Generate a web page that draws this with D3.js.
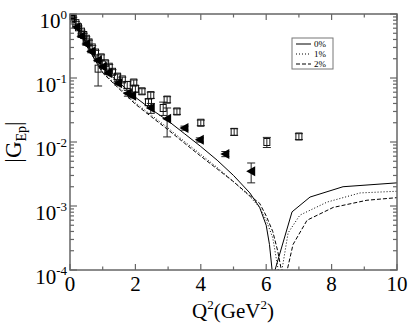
<!DOCTYPE html>
<html>
<head>
<meta charset="utf-8">
<script src="https://cdn.jsdelivr.net/npm/d3@7"></script>
<style>
	body { margin: 0; background: #fff; }
	svg { display: block; font-family: "Liberation Serif", "DejaVu Serif", serif; }
</style>
</head>
<body>
<svg id="chart" width="409" height="327"></svg>
<script>
// theory curves: [Q2, |G_Ep|]
const curve0 = [[0, 1], [0.25, 0.575], [0.5, 0.355], [1, 0.141], [1.5, 0.085], [2, 0.05], [2.5, 0.032], [3, 0.0214],
	[3.5, 0.0135], [4, 0.0085], [4.5, 0.0052], [5, 0.003], [5.5, 0.0016], [5.8, 0.00095], [6.0, 0.0005],
	[6.1, 0.00025], [6.2, 0.00008], [6.27, 0.0001], [6.79, 0.00081], [7.34, 0.00138], [8.35, 0.002], [10, 0.0023]];
const curve1 = [[0, 1], [0.25, 0.55], [0.5, 0.33], [1, 0.125], [1.5, 0.071], [2, 0.041], [2.5, 0.026], [3, 0.0165],
	[3.5, 0.0102], [4, 0.0064], [4.5, 0.004], [5, 0.0024], [5.5, 0.0014], [5.8, 0.00095], [6.0, 0.0006],
	[6.2, 0.00032], [6.3, 0.00016], [6.4, 0.00008], [6.45, 0.00008], [6.67, 0.00038], [7.03, 0.00072],
	[7.86, 0.00115], [8.87, 0.0016], [10, 0.0017]];
const curve2 = [[0, 1], [0.25, 0.545], [0.5, 0.322], [1, 0.12], [1.5, 0.068], [2, 0.039], [2.5, 0.0245], [3, 0.0155],
	[3.5, 0.0096], [4, 0.006], [4.5, 0.0038], [5, 0.0024], [5.5, 0.00145], [5.8, 0.0011], [6.0, 0.0007],
	[6.2, 0.0004], [6.35, 0.0002], [6.5, 0.00008], [6.6, 0.00008], [6.82, 0.00025], [7.25, 0.0006],
	[8.05, 0.00095], [9.08, 0.00123], [10, 0.00135]];

// data: [Q2, G, error]
const triData = [[0.05, 0.87, 0.02], [0.2, 0.62, 0.02], [0.35, 0.45, 0.02], [0.5, 0.34, 0.015], [0.65, 0.26, 0.012],
	[0.85, 0.19, 0.01], [1.0, 0.15, 0.008], [1.16, 0.12, 0.007], [1.47, 0.083, 0.005], [1.77, 0.058, 0.006],
	[1.9, 0.053, 0.004], [2.47, 0.034, 0.006], [2.97, 0.023, 0.011], [3.5, 0.0165, 0.0012],
	[3.97, 0.0108, 0.0008], [4.75, 0.0065, 0.0006], [5.54, 0.0035, 0.0012]];
const sqData = [[0.02, 0.96, 0.03], [0.1, 0.85, 0.04], [0.18, 0.72, 0.04], [0.26, 0.62, 0.03], [0.35, 0.53, 0.03],
	[0.42, 0.47, 0.03], [0.5, 0.41, 0.03], [0.58, 0.36, 0.03], [0.68, 0.30, 0.02], [0.78, 0.25, 0.02],
	[0.86, 0.14, 0.065], [0.95, 0.21, 0.02], [1.08, 0.17, 0.015], [1.2, 0.15, 0.012], [1.3, 0.125, 0.01],
	[1.45, 0.105, 0.01], [1.6, 0.095, 0.008], [1.75, 0.078, 0.01], [1.95, 0.085, 0.008], [2.0, 0.068, 0.008],
	[2.2, 0.062, 0.006], [2.4, 0.042, 0.005], [2.47, 0.054, 0.006], [2.85, 0.034, 0.008], [2.97, 0.046, 0.005],
	[3.27, 0.030, 0.003], [4.0, 0.020, 0.002], [5.02, 0.0144, 0.0017], [6.02, 0.0100, 0.0018], [7.0, 0.0122, 0.0013]];

const xTicks = [0, 2, 4, 6, 8, 10];
const yExps = [0, -1, -2, -3, -4];
const legendLabels = ["0%", "1%", "2%"];

const svg = d3.select("#chart");
const mLeft = 70, mRight = 397, mTop = 14, mBottom = 270;
const axisColor = "#666";

const x = d3.scaleLinear().domain([0, 10]).range([mLeft, mRight]);
const y = d3.scaleLog().domain([1e-4, 1]).range([mBottom, mTop]);

svg.append("clipPath").attr("id", "clip")
	.append("rect").attr("x", mLeft).attr("y", mTop).attr("width", mRight - mLeft).attr("height", mBottom - mTop);

// curves
const line = d3.line().x(d => x(d[0])).y(d => y(Math.max(d[1], 5e-5)));
const dashes = [null, "1,2", "4,2"];
const plot = svg.append("g").attr("clip-path", "url(#clip)");
[curve0, curve1, curve2].forEach((c, i) => {
	plot.append("path").datum(c).attr("d", line)
		.attr("fill", "none").attr("stroke", "#000")
		.attr("stroke-width", 1)
		.attr("stroke-dasharray", dashes[i]);
});

// error bars
function errBars(data) {
	const g = plot.append("g").attr("stroke", "#222").attr("stroke-width", 1);
	data.forEach(d => {
		const y1 = y(d[1] + d[2]), y2 = y(Math.max(d[1] - d[2], 1e-5));
		g.append("line").attr("x1", x(d[0])).attr("x2", x(d[0])).attr("y1", y1).attr("y2", y2);
		g.append("line").attr("x1", x(d[0]) - 4).attr("x2", x(d[0]) + 4).attr("y1", y1).attr("y2", y1);
		g.append("line").attr("x1", x(d[0]) - 4).attr("x2", x(d[0]) + 4).attr("y1", y2).attr("y2", y2);
	});
}
errBars(sqData);
errBars(triData);

// open squares
plot.selectAll(".sq").data(sqData).enter().append("rect")
	.attr("x", d => x(d[0]) - 3).attr("y", d => y(d[1]) - 3.5)
	.attr("width", 6).attr("height", 7)
	.attr("fill", "none").attr("stroke", "#111").attr("stroke-width", 1);

// filled left triangles
plot.selectAll(".tri").data(triData).enter().append("path")
	.attr("transform", d => "translate(" + x(d[0]) + "," + y(d[1]) + ")")
	.attr("d", "M-5,0L4,-5L4,5Z")
	.attr("fill", "#000");

// frame
svg.append("rect").attr("x", mLeft).attr("y", mTop).attr("width", mRight - mLeft).attr("height", mBottom - mTop)
	.attr("fill", "none").attr("stroke", axisColor).attr("stroke-width", 1.5);

// x ticks (inward, top and bottom)
const ticks = svg.append("g").attr("stroke", axisColor).attr("stroke-width", 1.2);
d3.range(0, 11, 1).forEach(v => {
	const len = v % 2 === 0 ? 6 : 3.5;
	ticks.append("line").attr("x1", x(v)).attr("x2", x(v)).attr("y1", mBottom).attr("y2", mBottom - len);
	ticks.append("line").attr("x1", x(v)).attr("x2", x(v)).attr("y1", mTop).attr("y2", mTop + len);
});
// y ticks (log, inward, left and right)
yExps.forEach(e => {
	const v = Math.pow(10, e);
	ticks.append("line").attr("x1", mLeft).attr("x2", mLeft + 7).attr("y1", y(v)).attr("y2", y(v));
	ticks.append("line").attr("x1", mRight).attr("x2", mRight - 7).attr("y1", y(v)).attr("y2", y(v));
	if (e > -4) {
		d3.range(2, 10).forEach(m => {
			const yy = y(m * v / 10);
			ticks.append("line").attr("x1", mLeft).attr("x2", mLeft + 4).attr("y1", yy).attr("y2", yy);
			ticks.append("line").attr("x1", mRight).attr("x2", mRight - 4).attr("y1", yy).attr("y2", yy);
		});
	}
});

// tick labels
svg.selectAll(".xl").data(xTicks).enter().append("text")
	.attr("x", d => x(d)).attr("y", 291)
	.attr("text-anchor", "middle").attr("font-size", 21).text(d => d);

yExps.forEach(e => {
	const t = svg.append("text").attr("x", 67).attr("y", y(Math.pow(10, e)) + 14)
		.attr("text-anchor", "end").attr("font-size", 21);
	t.append("tspan").text("10");
	t.append("tspan").attr("font-size", 13).attr("dy", -9).text(e);
});

// axis titles
const xt = svg.append("text").attr("x", 233).attr("y", 318).attr("text-anchor", "middle").attr("font-size", 21);
xt.append("tspan").text("Q");
xt.append("tspan").attr("font-size", 13).attr("dy", -9).text("2");
xt.append("tspan").attr("dy", 9).text("(GeV");
xt.append("tspan").attr("font-size", 13).attr("dy", -9).text("2");
xt.append("tspan").attr("dy", 9).text(")");

const yt = svg.append("text").attr("transform", "translate(21,142) rotate(-90)")
	.attr("text-anchor", "middle").attr("font-size", 23);
yt.append("tspan").text("|G");
yt.append("tspan").attr("font-size", 14).attr("dy", 5).text("Ep");
yt.append("tspan").attr("dy", -5).text("|");

// legend
const lg = svg.append("g");
lg.append("rect").attr("x", 292).attr("y", 38).attr("width", 41).attr("height", 31)
	.attr("fill", "#fff").attr("stroke", "#777").attr("stroke-width", 1);
legendLabels.forEach((l, i) => {
	const yy = 44 + i * 10;
	lg.append("line").attr("x1", 296).attr("x2", 311).attr("y1", yy).attr("y2", yy)
		.attr("stroke", "#000").attr("stroke-width", 1).attr("stroke-dasharray", dashes[i]);
	lg.append("text").attr("x", 314).attr("y", yy + 3).attr("font-size", 9).text(l);
});
</script>
</body>
</html>
